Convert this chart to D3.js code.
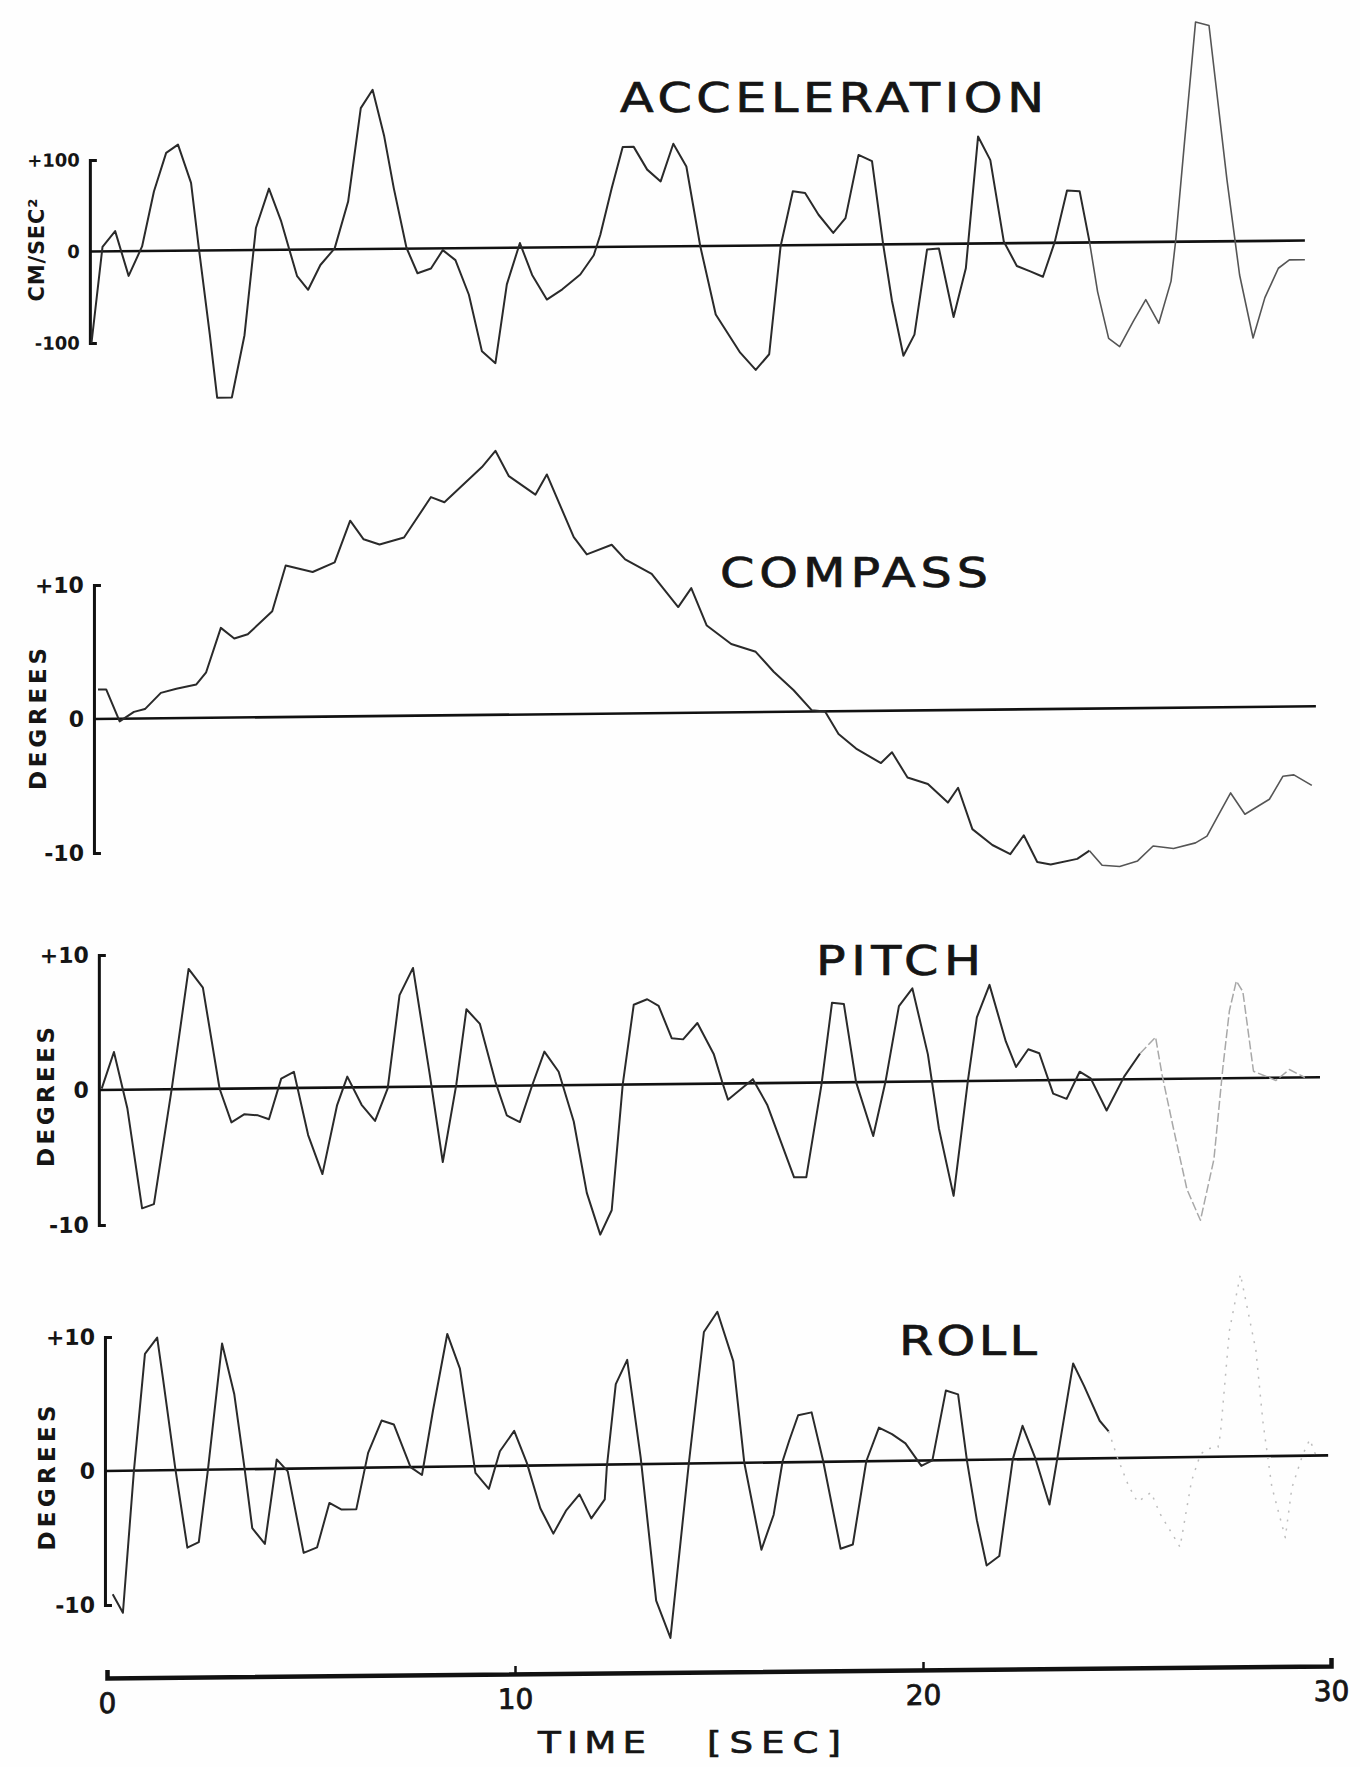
<!DOCTYPE html>
<html>
<head>
<meta charset="utf-8">
<script src="https://cdn.jsdelivr.net/npm/d3@7"></script>
<style>
  body { margin: 0; background: #fff; }
  svg { display: block; }
  text { font-family: "DejaVu Sans", sans-serif; fill: #151515; }
</style>
</head>
<body>
<div id="chart"></div>
<script>
// data (time in sec)
const accTime = [-0.38, -0.11, 0.20, 0.53, 0.86, 1.15, 1.45, 1.74, 2.06, 2.25, 2.52, 2.70, 3.06, 3.37, 3.65, 3.97, 4.27, 4.47, 4.66, 4.93,
  5.23, 5.58, 5.91, 6.22, 6.51, 6.79, 7.03, 7.34, 7.61, 7.94, 8.23, 8.54, 8.87, 9.19, 9.52, 9.80, 10.12, 10.42, 10.78, 11.16,
  11.60, 11.93, 12.09, 12.37, 12.64, 12.91, 13.24, 13.57, 13.88, 14.20, 14.54, 14.92, 15.52, 15.90, 16.23, 16.51, 16.81, 17.11, 17.44, 17.80,
  18.10, 18.42, 18.75, 19.02, 19.24, 19.52, 19.79, 20.10, 20.39, 20.75, 21.05, 21.35, 21.65, 21.98, 22.30, 22.63, 22.94, 23.23, 23.53, 23.84,
  24.08, 24.28, 24.55, 24.82, 25.15, 25.46, 25.78, 26.08, 26.19, 26.41, 26.68, 27.01, 27.45, 27.65, 27.76, 28.09, 28.38, 28.71, 28.98, 29.36];
const accValue = [-100, 5, 22, -27, 5, 65, 107, 116, 74, 3, -92, -161, -161, -93, 24, 67, 31, 0, -29, -44,
  -17, 1, 52, 154, 174, 124, 66, 1, -27, -22, -2, -13, -51, -113, -126, -40, 5, -30, -57, -46,
  -30, -9, 13, 64, 109, 109, 84, 71, 112, 87, 0, -75, -117, -136, -119, -1, 59, 57, 33, 13,
  29, 98, 91, 1, -62, -122, -99, -6, -5, -80, -27, 117, 91, 2, -25, -31, -37, 1, 57, 56,
  1, -54, -105, -114, -87, -63, -89, -43, 0, 109, 240, 236, 67, 0, -37, -106, -62, -30, -21, -21];

const compassTime = [-0.22, -0.02, 0.31, 0.66, 0.93, 1.32, 1.70, 2.19, 2.43, 2.79, 3.12, 3.45, 4.05, 4.38, 5.04, 5.58, 5.96, 6.29, 6.68, 7.28,
  7.94, 8.27, 9.19, 9.52, 9.85, 10.50, 10.78, 11.44, 11.76, 12.37, 12.70, 13.35, 14.00, 14.32, 14.70, 15.30, 15.90, 16.34, 16.83, 17.27,
  17.60, 17.93, 18.36, 18.97, 19.24, 19.62, 20.12, 20.61, 20.86, 21.21, 21.70, 22.14, 22.47, 22.80, 23.13, 23.78, 24.08, 24.39, 24.82, 25.26,
  25.64, 26.14, 26.68, 26.96, 27.23, 27.54, 27.89, 28.22, 28.49, 28.82, 29.09, 29.53];
const compassValue = [2.2, 2.2, -0.2, 0.5, 0.7, 1.9, 2.2, 2.5, 3.4, 6.7, 5.9, 6.2, 7.9, 11.3, 10.8, 11.5, 14.6, 13.2, 12.8, 13.3,
  16.3, 15.9, 18.5, 19.7, 17.8, 16.4, 17.9, 13.2, 11.9, 12.6, 11.5, 10.4, 7.9, 9.3, 6.5, 5.1, 4.5, 3.0, 1.6, 0.1,
  0, -1.7, -2.8, -3.9, -3.1, -5.0, -5.5, -6.9, -5.8, -8.9, -10.1, -10.8, -9.4, -11.4, -11.6, -11.2, -10.6, -11.7, -11.8, -11.4,
  -10.3, -10.5, -10.1, -9.6, -8.1, -6.4, -8.0, -7.4, -6.9, -5.2, -5.1, -5.9];

const pitchTime = [-0.13, 0.17, 0.50, 0.86, 1.15, 1.59, 2.00, 2.35, 2.76, 3.05, 3.37, 3.70, 3.97, 4.27, 4.58, 4.93, 5.28, 5.64, 5.89, 6.24,
  6.57, 6.88, 7.17, 7.50, 7.91, 8.23, 8.56, 8.81, 9.14, 9.52, 9.80, 10.12, 10.42, 10.72, 11.07, 11.44, 11.76, 12.09, 12.37, 12.64,
  12.91, 13.24, 13.52, 13.84, 14.12, 14.47, 14.87, 15.09, 15.22, 15.83, 16.18, 16.84, 17.14, 17.51, 17.77, 18.06, 18.36, 18.78, 19.08, 19.41,
  19.74, 20.12, 20.39, 20.75, 21.10, 21.32, 21.63, 22.03, 22.28, 22.58, 22.85, 23.19, 23.52, 23.84, 24.11, 24.50, 24.93, 25.32, 25.70, 25.86,
  26.14, 26.47, 26.80, 27.13, 27.35, 27.51, 27.68, 27.84, 28.10, 28.65, 28.98, 29.36];
const pitchValue = [0.1, 2.8, -1.4, -8.8, -8.5, 0.1, 8.9, 7.5, 0, -2.5, -1.9, -2.0, -2.3, 0.7, 1.2, -3.5, -6.4, -1.3, 0.8, -1.3,
  -2.5, -0.1, 6.8, 8.8, 0.9, -5.6, 0.1, 5.7, 4.6, 0.3, -2.2, -2.7, 0, 2.5, 1.0, -2.7, -8.0, -11.1, -9.3, 0,
  5.9, 6.3, 5.8, 3.4, 3.3, 4.5, 2.2, 0, -1.2, 0.3, -1.6, -7.0, -7.0, -0.2, 5.9, 5.8, 0, -4.0, 0, 5.6,
  6.9, 2.0, -3.5, -8.5, 0, 4.7, 7.1, 2.9, 1.0, 2.3, 2.0, -1.0, -1.4, 0.6, 0.1, -2.3, 0.2, 1.9, 3.1, 0.3,
  -3.7, -8.2, -10.5, -6.0, 0.8, 5.0, 7.2, 6.4, 0.5, -0.2, 0.6, 0];

const rollTime = [0.14, 0.39, 0.66, 0.93, 1.23, 1.37, 1.67, 1.97, 2.25, 2.47, 2.82, 3.12, 3.37, 3.56, 3.87, 4.16, 4.43, 4.82, 5.15, 5.45,
  5.75, 6.11, 6.40, 6.73, 7.03, 7.44, 7.72, 7.99, 8.34, 8.65, 9.03, 9.36, 9.63, 9.98, 10.29, 10.62, 10.94, 11.25, 11.58, 11.87,
  12.20, 12.25, 12.47, 12.75, 13.08, 13.46, 13.81, 14.26, 14.63, 14.96, 15.35, 15.62, 16.04, 16.34, 16.56, 16.72, 16.94, 17.27, 17.55, 17.98,
  18.28, 18.61, 18.92, 19.24, 19.57, 19.96, 20.23, 20.56, 20.86, 21.08, 21.32, 21.56, 21.87, 22.20, 22.44, 22.75, 23.10, 23.29, 23.68, 23.95,
  24.33, 24.55, 24.77, 25.04, 25.26, 25.59, 25.81, 26.30, 26.58, 26.80, 26.96, 27.23, 27.29, 27.51, 27.78, 28.16, 28.33, 28.55, 28.88, 29.04,
  29.31, 29.48, 29.63];
const rollValue = [-9.2, -10.6, 0, 8.7, 9.9, 6.9, 0.2, -5.8, -5.4, -0.1, 9.4, 5.6, 0.1, -4.4, -5.6, 0.7, -0.2, -6.3, -5.9, -2.6,
  -3.1, -3.1, 1.1, 3.5, 3.2, 0, -0.6, 4.2, 9.9, 7.3, -0.5, -1.7, 1.1, 2.6, 0.2, -3.2, -5.1, -3.4, -2.2, -4.0,
  -2.6, -0.2, 6.0, 7.8, 0.5, -10.2, -13.0, 0, 9.8, 11.3, 7.6, 0, -6.5, -3.9, 0.1, 1.6, 3.5, 3.7, 0.1, -6.5,
  -6.2, 0, 2.5, 2.0, 1.3, -0.4, 0, 5.2, 4.9, -0.1, -4.5, -7.9, -7.2, 0, 2.5, 0.1, -3.4, 0, 7.1, 5.4,
  2.8, 2.0, 0, -2.1, -3.3, -2.6, -4.2, -6.7, -1.8, 0.2, 0.6, 0.7, 1.7, 9.4, 13.6, 7.9, 2.6, -2.3, -6.1, -2.4,
  0.1, 1.2, 0];

const accTicks = [-100, 0, 100];
const degTicks = [-10, 0, 10];
const timeTicks = [0, 10, 20, 30];

// page
let W = 1360, H = 1767;
let svg = d3.select("#chart")
  .append("svg")
  .attr("width", W)
  .attr("height", H);
svg.append("rect").attr("width", W).attr("height", H).attr("fill", "#fefefe");

let x = d3.scaleLinear().domain([0, 30]).range([107, 1331]);

let panels = [
  { title: "ACCELERATION", unit: "CM/SEC²", time: accTime, value: accValue, domain: [-100, 100], range: [343, 160], ticks: accTicks,
    axisT: -0.42, endT: 29.36, tilt: 0.009, fadeT: 24.08, faintDash: null, faintColor: "#555",
    titleX: 620, titleY: 112, titleLen: 424, unitX: 36, unitY: 250, unitLen: 103, unitFont: 21, tickFont: 18 },
  { title: "COMPASS", unit: "DEGREES", time: compassTime, value: compassValue, domain: [-10, 10], range: [853, 585], ticks: degTicks,
    axisT: -0.32, endT: 29.63, tilt: 0.0104, fadeT: 24.08, faintDash: null, faintColor: "#555",
    titleX: 720, titleY: 587, titleLen: 268, unitX: 38, unitY: 719, unitLen: 142, unitFont: 23, tickFont: 22 },
  { title: "PITCH", unit: "DEGREES", time: pitchTime, value: pitchValue, domain: [-10, 10], range: [1225, 955], ticks: degTicks,
    axisT: -0.2, endT: 29.73, tilt: 0.0104, fadeT: 25.32, faintDash: "9 3", faintColor: "#a8a8a8",
    titleX: 816, titleY: 975, titleLen: 165, unitX: 46, unitY: 1097, unitLen: 140, unitFont: 23, tickFont: 22 },
  { title: "ROLL", unit: "DEGREES", time: rollTime, value: rollValue, domain: [-10, 10], range: [1605, 1337], ticks: degTicks,
    axisT: -0.05, endT: 29.93, tilt: 0.0128, fadeT: 24.55, faintDash: "2 7", faintColor: "#bdbdbd",
    titleX: 899, titleY: 1355, titleLen: 138, unitX: 47, unitY: 1478, unitLen: 145, unitFont: 23, tickFont: 22 }
];

panels.forEach(p => drawPanel(p));
drawTimeAxis();

/**
 * Lettering: glyphs widened a bit, then spread to the given length.
 */
function letter(x0, y0, len, size, str) {
  let sx = 1.2;
  svg.append("text")
    .attr("transform", "translate(" + x0 + "," + y0 + ") scale(" + sx + ",1)")
    .attr("textLength", len / sx)
    .attr("lengthAdjust", "spacing")
    .attr("stroke", "#151515")
    .attr("stroke-width", 0.7)
    .style("font-size", size + "px")
    .text(str);
}

/**
 * One trace: axis bracket, zero line, curve, title.
 */
function drawPanel(p) {
  let y = d3.scaleLinear().domain(p.domain).range(p.range);
  let x0 = x(p.axisT);

  // the hand drawn baselines climb a little to the right
  let g = svg.append("g")
    .attr("transform", "translate(0," + (p.tilt * x0) + ") skewY(" + (-Math.atan(p.tilt) * 180 / Math.PI) + ")");

  g.append("line")
    .attr("x1", x0)
    .attr("x2", x(p.endT))
    .attr("y1", y(0))
    .attr("y2", y(0))
    .attr("stroke", "#111")
    .attr("stroke-width", 2.6);

  let axis = g.append("g")
    .attr("transform", "translate(" + x0 + ",0)")
    .call(d3.axisLeft(y)
      .tickValues(p.ticks)
      .tickSizeInner(0)
      .tickSizeOuter(-7)
      .tickPadding(10)
      .tickFormat(d => d > 0 ? "+" + d : String(d)));
  axis.select(".domain").attr("stroke", "#111").attr("stroke-width", 3);
  axis.selectAll(".tick line").remove();
  axis.selectAll("text")
    .style("font-family", "'DejaVu Sans', sans-serif")
    .style("font-size", p.tickFont + "px")
    .style("font-weight", "bold")
    .attr("fill", "#151515");

  let pts = p.time.map((t, i) => [t, p.value[i]]);
  let cut = pts.findIndex(d => d[0] >= p.fadeT);
  let line = d3.line()
    .x(d => x(d[0]))
    .y(d => y(d[1]));

  g.append("path")
    .datum(pts.slice(0, cut + 1))
    .attr("d", line)
    .attr("fill", "none")
    .attr("stroke", "#2a2a2a")
    .attr("stroke-width", 2)
    .attr("stroke-linejoin", "round");

  // late part of the record came out faint on the sheet
  g.append("path")
    .datum(pts.slice(cut))
    .attr("d", line)
    .attr("fill", "none")
    .attr("stroke", p.faintColor)
    .attr("stroke-width", p.faintDash ? 1.5 : 1.6)
    .attr("stroke-dasharray", p.faintDash)
    .attr("stroke-linejoin", "round");

  letter(p.titleX, p.titleY, p.titleLen, 41, p.title);

  svg.append("text")
    .attr("transform", "translate(" + p.unitX + "," + p.unitY + ") rotate(-90)")
    .attr("text-anchor", "middle")
    .attr("dy", "0.36em")
    .attr("textLength", p.unitLen)
    .attr("lengthAdjust", "spacing")
    .style("font-size", p.unitFont + "px")
    .style("font-weight", "bold")
    .text(p.unit);
}

/**
 * Shared time axis at the foot of the sheet.
 */
function drawTimeAxis() {
  let tilt = 0.0098;
  let y0 = 1678;
  let g = svg.append("g")
    .attr("transform", "translate(0," + (y0 + tilt * x(0)) + ") skewY(" + (-Math.atan(tilt) * 180 / Math.PI) + ")")
    .call(d3.axisBottom(x)
      .tickValues(timeTicks)
      .tickSize(-8)
      .tickPadding(15));
  g.select(".domain").attr("stroke", "#111").attr("stroke-width", 4.5);
  g.selectAll(".tick line").attr("stroke", "#111").attr("stroke-width", 2.5);
  g.selectAll("text")
    .style("font-family", "'DejaVu Sans', sans-serif")
    .style("font-size", "28px")
    .attr("fill", "#151515")
    .attr("stroke", "#151515")
    .attr("stroke-width", 0.8);

  letter(538, 1753, 108, 31, "TIME");
  letter(707, 1753, 134, 31, "[SEC]");
}
</script>
</body>
</html>
